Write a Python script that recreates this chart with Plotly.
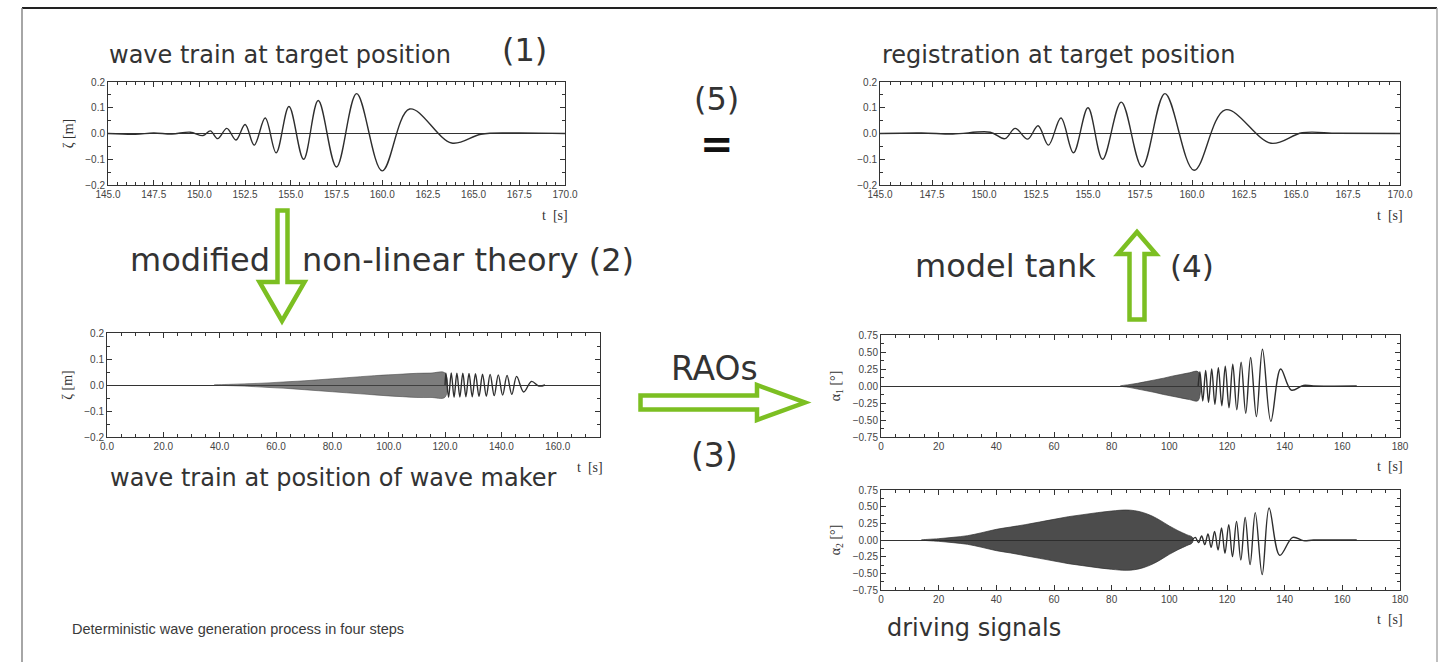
import plotly.graph_objects as go

W, H = 1455, 662

# ---------------- data ----------------
# (1) wave train at target position  (extrema / key points)
tA = [145.0, 146.5, 147.5, 148.5, 149.5, 150.2, 150.6, 151.0, 151.5, 152.0, 152.5, 153.0,
      153.6, 154.2, 154.9, 155.7, 156.5, 157.5, 158.6, 160.0, 161.5, 163.8, 165.4, 167.0, 170.0]
zA = [0.0, -0.003, 0.002, -0.002, 0.005, -0.008, 0.01, -0.02, 0.02, -0.025, 0.035, -0.045,
      0.06, -0.075, 0.105, -0.10, 0.128, -0.13, 0.155, -0.145, 0.095, -0.037, -0.003, 0.002, 0.0]

# (5) registration at target position
tB = [145.0, 147.0, 148.5, 150.3, 151.0, 151.5, 152.1, 152.6, 153.1, 153.7, 154.3, 155.0,
      155.7, 156.6, 157.6, 158.7, 160.1, 161.6, 163.8, 165.3, 167.0, 170.0]
zB = [0.0, 0.002, -0.002, 0.005, -0.02, 0.02, -0.022, 0.03, -0.045, 0.06, -0.075, 0.10,
      -0.10, 0.122, -0.13, 0.155, -0.143, 0.092, -0.038, 0.003, 0.001, 0.0]

# (2) wave train at position of wave maker: dense part (envelope) + resolvable tail
envC_t = [38, 45, 50, 55, 60, 65, 70, 75, 80, 85, 90, 95, 100, 105, 110, 115, 120]
envC_hi = [0.0, 0.003, 0.005, 0.007, 0.010, 0.013, 0.016, 0.020, 0.024, 0.028, 0.032, 0.036,
           0.039, 0.042, 0.045, 0.046, 0.046]
envC_lo = [0.0, -0.003, -0.005, -0.008, -0.011, -0.014, -0.018, -0.022, -0.026, -0.030, -0.034,
           -0.038, -0.042, -0.045, -0.048, -0.048, -0.047]
tC = [120.0, 120.3, 121.25, 122.2, 123.2, 124.2, 125.25, 126.3, 127.4, 128.5, 129.65, 130.8,
      132.05, 133.3, 134.65, 136.0, 137.45, 138.9, 140.45, 142.0, 143.7, 145.4, 147.9, 150.7,
      153.3, 155.5]
zC = [0.0, 0.046, -0.047, 0.046, -0.047, 0.045, -0.046, 0.045, -0.045, 0.044, -0.045, 0.043,
      -0.044, 0.042, -0.043, 0.041, -0.041, 0.039, -0.039, 0.037, -0.036, 0.033, -0.027, 0.014,
      -0.004, 0.0]

# (3) driving signal alpha_1
envD_t = [83, 86, 89, 92, 95, 98, 101, 104, 107, 110]
envD_hi = [0.0, 0.02, 0.04, 0.065, 0.09, 0.115, 0.145, 0.17, 0.195, 0.21]
envD_lo = [0.0, -0.02, -0.045, -0.07, -0.095, -0.125, -0.15, -0.175, -0.2, -0.215]
tD = [110.0, 110.6, 111.6, 112.6, 113.6, 114.7, 115.8, 117.0, 118.2, 119.4, 120.7, 122.0,
      123.4, 124.9, 126.5, 128.2, 130.2, 132.3, 135.2, 138.6, 142.3, 146.5, 150.0, 165.0]
aD = [0.0, 0.21, -0.22, 0.23, -0.24, 0.25, -0.27, 0.27, -0.29, 0.29, -0.32, 0.32,
      -0.35, 0.35, -0.40, 0.42, -0.45, 0.54, -0.52, 0.25, -0.06, 0.01, 0.0, 0.0]

# driving signal alpha_2
envE_t = [14, 20, 25, 30, 35, 40, 45, 50, 55, 60, 65, 70, 75, 80, 85, 88, 91, 94, 97, 100,
          103, 106, 108]
envE_hi = [0.0, 0.02, 0.04, 0.065, 0.11, 0.16, 0.195, 0.23, 0.27, 0.31, 0.35, 0.38, 0.41,
           0.435, 0.45, 0.44, 0.41, 0.36, 0.29, 0.21, 0.14, 0.08, 0.04]
envE_lo = [0.0, -0.02, -0.04, -0.065, -0.11, -0.16, -0.195, -0.235, -0.275, -0.315, -0.355,
           -0.385, -0.415, -0.44, -0.455, -0.445, -0.415, -0.365, -0.295, -0.215, -0.145,
           -0.085, -0.04]
tE = [108.0, 109.0, 110.1, 111.2, 112.3, 113.4, 114.5, 115.7, 116.9, 118.1, 119.3, 120.6,
      121.9, 123.3, 124.8, 126.3, 128.0, 129.8, 132.2, 134.6, 138.3, 142.8, 146.5, 150.0, 165.0]
aE = [0.0, 0.04, -0.04, 0.06, -0.07, 0.09, -0.11, 0.13, -0.15, 0.18, -0.20, 0.23,
      -0.25, 0.28, -0.30, 0.34, -0.37, 0.41, -0.52, 0.48, -0.23, 0.04, -0.01, 0.0, 0.0]

# ---------------- helpers ----------------
def px(x):
    return x / W


def py(y):
    return 1 - y / H


LINE = '#2e2e2e'
TXT = '#333333'
GREEN = '#7CBF22'

fig = go.Figure()


def add_line(t, v, n):
    fig.add_trace(go.Scatter(x=t, y=v, mode='lines',
                             line=dict(color=LINE, width=1.4, shape='spline', smoothing=1.0),
                             xaxis='x' + n, yaxis='y' + n, hoverinfo='skip', showlegend=False))


def add_band(t, hi, lo, n, color):
    fig.add_trace(go.Scatter(x=list(t) + list(t)[::-1], y=list(hi) + list(lo)[::-1],
                             mode='lines', fill='toself', fillcolor=color,
                             line=dict(color=color, width=0.8, shape='spline'),
                             xaxis='x' + n, yaxis='y' + n, hoverinfo='skip', showlegend=False))


add_line(tA, zA, '')
add_line(tB, zB, '2')
add_band(envC_t, envC_hi, envC_lo, '3', 'rgba(70,70,70,0.7)')
add_line(tC, zC, '3')
add_band(envD_t, envD_hi, envD_lo, '4', 'rgba(55,55,55,0.8)')
add_line(tD, aD, '4')
add_band(envE_t, envE_hi, envE_lo, '5', 'rgba(45,45,45,0.85)')
add_line(tE, aE, '5')

TICKFONT = dict(family='Liberation Sans', size=10, color='#444')


def xax(x0, x1, rng, dtick, minor, fmt, anchor):
    return dict(domain=[px(x0), px(x1)], range=rng, anchor=anchor, tick0=rng[0], dtick=dtick,
                tickformat=fmt, ticks='inside', ticklen=5, tickwidth=1, tickcolor='#333',
                showline=True, linecolor='#333', linewidth=1, mirror='allticks',
                showgrid=False, zeroline=False,
                minor=dict(dtick=minor, ticks='inside', ticklen=3, tickcolor='#333',
                           showgrid=False),
                tickfont=TICKFONT, automargin=False, fixedrange=True)


def yax(y0, y1, rng, dtick, minor, fmt, anchor, title=None):
    d = dict(domain=[py(y1), py(y0)], range=rng, anchor=anchor, tick0=rng[0], dtick=dtick,
             tickformat=fmt, ticks='inside', ticklen=5, tickwidth=1, tickcolor='#333',
             showline=True, linecolor='#333', linewidth=1, mirror='allticks',
             showgrid=False, zeroline=True, zerolinecolor='#333', zerolinewidth=1.3,
             minor=dict(dtick=minor, ticks='inside', ticklen=3, tickcolor='#333',
                        showgrid=False),
             tickfont=TICKFONT, automargin=False, fixedrange=True)
    if title:
        d['title'] = dict(text=title, font=dict(family='Liberation Serif', size=14, color='#333'),
                          standoff=8)
    return d


fig.update_layout(
    xaxis=xax(108, 565, [145, 170], 2.5, 0.5, '.1f', 'y'),
    yaxis=yax(82, 185, [-0.2, 0.2], 0.1, 0.05, '.1f', 'x', 'ζ [m]'),
    xaxis2=xax(880, 1400, [145, 170], 2.5, 0.5, '.1f', 'y2'),
    yaxis2=yax(82, 185, [-0.2, 0.2], 0.1, 0.05, '.1f', 'x2'),
    xaxis3=xax(107, 600, [0, 175], 20, 5, '.1f', 'y3'),
    yaxis3=yax(333, 437, [-0.2, 0.2], 0.1, 0.05, '.1f', 'x3', 'ζ [m]'),
    xaxis4=xax(881, 1400, [0, 180], 20, 5, 'd', 'y4'),
    yaxis4=yax(335, 437, [-0.75, 0.75], 0.25, 0.125, '.2f', 'x4', 'α<sub>1</sub> [°]'),
    xaxis5=xax(881, 1400, [0, 180], 20, 5, 'd', 'y5'),
    yaxis5=yax(490, 590, [-0.75, 0.75], 0.25, 0.125, '.2f', 'x5', 'α<sub>2</sub> [°]'),
)

# ---------------- text ----------------
ann = []


def text(s, x, y, size, family='DejaVu Sans', color=TXT, xanchor='center'):
    ann.append(dict(text=s, x=px(x), y=py(y), xref='paper', yref='paper', showarrow=False,
                    xanchor=xanchor, yanchor='middle',
                    font=dict(family=family, size=size, color=color)))


text('wave train at target position', 107, 55, 24, xanchor='left')
text('(1)', 524, 50, 32)
text('registration at target position', 880, 55, 24, xanchor='left')
text('(5)', 716, 99, 32)
text('<b>=</b>', 717, 144, 40, color='#111')
text('modified', 128, 260, 32, xanchor='left')
text('non-linear theory (2)', 300, 260, 32, xanchor='left')
text('wave train at position of wave maker', 108, 478, 24, xanchor='left')
text('RAOs', 714, 368, 33)
text('(3)', 714, 455, 33)
text('model tank', 913, 266, 32, xanchor='left')
text('(4)', 1192, 266, 31)
text('driving signals', 885, 628, 24, xanchor='left')
text('Deterministic wave generation process in four steps', 70, 629, 14.5,
     family='Liberation Sans', color='#3a3a3a', xanchor='left')

for n in ['', '2', '3', '4', '5']:
    ann.append(dict(text='t  [s]', x=1.01, y=-0.2, xref='x' + n + ' domain',
                    yref='y' + n + ' domain', xanchor='right', yanchor='top', showarrow=False,
                    font=dict(family='Liberation Serif', size=14, color='#333')))

fig.update_layout(annotations=ann)


# ---------------- decorations: frame and hollow arrows ----------------
def path(points):
    return 'M ' + ' L '.join(f'{px(x):.5f},{py(y):.5f}' for x, y in points) + ' Z'


shapes = [
    dict(type='line', xref='paper', yref='paper', x0=px(22), x1=px(1437), y0=py(8), y1=py(8),
         line=dict(color='#222', width=2)),
    dict(type='line', xref='paper', yref='paper', x0=px(22), x1=px(22), y0=py(8), y1=py(662),
         line=dict(color='#888', width=1.5)),
    dict(type='line', xref='paper', yref='paper', x0=px(1437), x1=px(1437), y0=py(8), y1=py(662),
         line=dict(color='#aaa', width=1.5)),
]

down = [(277.5, 210.5), (287.5, 210.5), (287.5, 282), (304.5, 282), (282, 321), (259.5, 282),
        (277.5, 282)]
right = [(640.5, 395.5), (757, 395.5), (757, 385), (805, 402.5), (757, 420), (757, 409.5),
         (640.5, 409.5)]
up = [(1129.5, 319.5), (1129.5, 254), (1118, 254), (1137, 232), (1156, 254), (1144.5, 254),
      (1144.5, 319.5)]
for pts in (down, right, up):
    shapes.append(dict(type='path', xref='paper', yref='paper', path=path(pts),
                       fillcolor='white', line=dict(color=GREEN, width=4.5)))

fig.update_layout(shapes=shapes, width=W, height=H, margin=dict(l=0, r=0, t=0, b=0),
                  paper_bgcolor='white', plot_bgcolor='white', showlegend=False)

fig.write_html('out.html', config={'displayModeBar': False},
               post_script="document.body.style.margin='0';")
